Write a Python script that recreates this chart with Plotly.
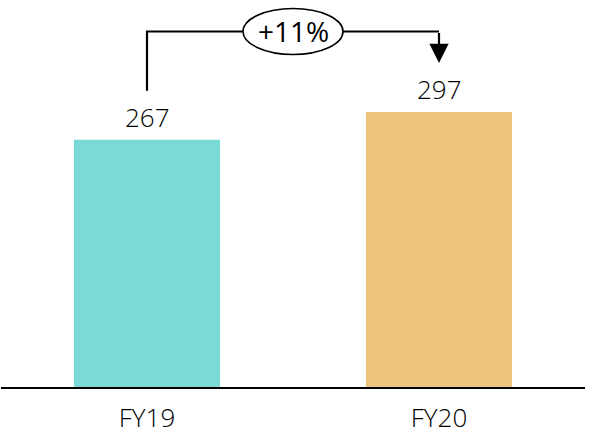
import plotly.graph_objects as go

categories = ["FY19", "FY20"]
values = [267, 297]
bar_colors = ["#7ADBD6", "#ECC47E"]

label_gap = 53      # data units between bar value and connector ends
top_extra = 87      # data units above the largest value for the connector

FONT = "Open Sans, Noto Sans, sans-serif"

xs = list(range(len(categories)))
fig = go.Figure()
fig.add_trace(go.Bar(
    x=xs, y=values, width=0.5,
    marker=dict(color=bar_colors, line=dict(width=0)),
    hoverinfo="skip",
))

# value labels
for x, v in zip(xs, values):
    fig.add_annotation(x=x, y=v, text=str(v), showarrow=False,
                       yanchor="middle", yshift=23,
                       font=dict(family=FONT, size=26, color="black", weight=350))

top = max(values) + top_extra
# left vertical + horizontal connector
fig.add_shape(type="path",
              path=f"M {xs[0]} {values[0] + label_gap} L {xs[0]} {top} L {xs[1]} {top}",
              xref="x", yref="y", line=dict(color="black", width=2.2))
# right vertical with arrowhead
fig.add_annotation(x=xs[1], y=values[1] + label_gap, ax=xs[1], ay=top,
                   xref="x", yref="y", axref="x", ayref="y",
                   showarrow=True, arrowhead=2, arrowsize=1.75, arrowwidth=2.2,
                   arrowcolor="black", text="")

pct = round((values[1] / values[0] - 1) * 100)
mid = (xs[0] + xs[1]) / 2
fig.add_shape(type="circle", xref="x", yref="y",
              xsizemode="pixel", ysizemode="pixel",
              xanchor=mid, yanchor=top,
              x0=-50, x1=50, y0=-23, y1=23,
              fillcolor="white", line=dict(color="black", width=1.6))
fig.add_annotation(x=mid, y=top, text=f"+{pct}%", showarrow=False,
                   yanchor="middle",
                   font=dict(family=FONT, size=28, color="black", weight=400))

fig.update_layout(
    width=589, height=440,
    margin=dict(l=1, r=4, t=0, b=53),
    paper_bgcolor="white", plot_bgcolor="white",
    showlegend=False,
    xaxis=dict(range=[-0.5, 1.5], tickmode="array", tickvals=xs, ticktext=categories,
               showline=True, linecolor="black", linewidth=2, showgrid=False,
               zeroline=False, ticks="", ticklabelstandoff=7,
               tickfont=dict(family=FONT, size=26, color="black", weight=350)),
    yaxis=dict(range=[0, 418], visible=False, showgrid=False, zeroline=False),
)

fig.write_html("out.html")
